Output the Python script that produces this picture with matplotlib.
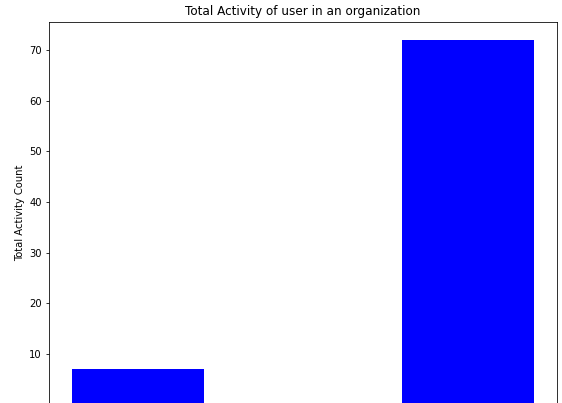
import matplotlib
matplotlib.use("Agg")
import matplotlib.pyplot as plt

# Activity totals per user group
categories = ["Group A", "Group B"]
activity_counts = [7, 72]
y_ticks = [10, 20, 30, 40, 50, 60, 70]

DPI = 72
W, H = 562, 403
fig = plt.figure(figsize=(W / DPI, H / DPI), dpi=DPI)

# Axes base sits just at the lower edge of the canvas
top_px, bottom_px = 21.5, 404.7
ax = fig.add_axes([49 / W, (H - bottom_px) / H, 508 / W, (bottom_px - top_px) / H])

ax.bar(range(len(categories)), activity_counts, width=0.4, color="blue")
ax.set_xticks(range(len(categories)))
ax.tick_params(axis="x", bottom=False, labelbottom=False)
ax.set_yticks(y_ticks)
ax.set_ylim(0, max(activity_counts) * 1.05)
ax.set_ylabel("Total Activity Count")
ax.set_title("Total Activity of user in an organization")

fig.savefig("out.png", dpi=DPI)
